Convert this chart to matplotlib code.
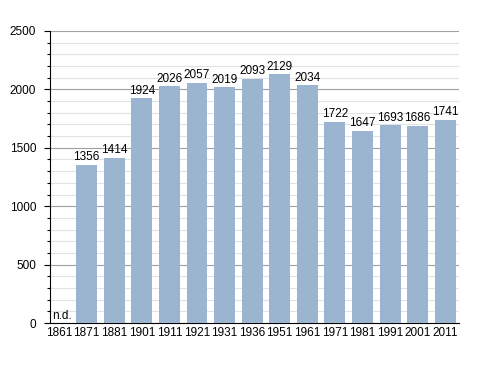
import matplotlib
matplotlib.use("Agg")
import matplotlib.pyplot as plt
import numpy as np

YEARS = ["1861", "1871", "1881", "1901", "1911", "1921", "1931", "1936",
         "1951", "1961", "1971", "1981", "1991", "2001", "2011"]
POPULATION = [None, 1356, 1414, 1924, 2026, 2057, 2019, 2093,
              2129, 2034, 1722, 1647, 1693, 1686, 1741]
MISSING_LABEL = "n.d."

BAR_COLOR = "#9bb4d0"
FONT_SIZE = 8.5

plt.rcParams["font.family"] = ["Liberation Sans", "DejaVu Sans"]

fig = plt.figure(figsize=(4.88, 3.73), dpi=100)
ax = fig.add_axes([0.1025, 0.134, 0.838, 0.783])

x = np.arange(len(YEARS))
heights = [0 if v is None else v for v in POPULATION]
ax.bar(x, heights, width=0.76, color=BAR_COLOR, zorder=3)

for xi, v in zip(x, POPULATION):
    if v is None:
        ax.text(xi - 0.27, 12, MISSING_LABEL, ha="left", va="bottom",
                fontsize=FONT_SIZE, zorder=4)
    else:
        ax.text(xi, v + 14, str(v), ha="center", va="bottom",
                fontsize=FONT_SIZE, zorder=4)

ax.set_xlim(-0.33, len(YEARS) - 0.5)
ax.set_ylim(0, 2500)
ax.set_xticks(x)
ax.set_xticklabels(YEARS, fontsize=FONT_SIZE)
ax.set_yticks(np.arange(0, 2501, 500))
ax.set_yticks(np.arange(0, 2501, 100), minor=True)
ax.tick_params(axis="y", which="major", labelsize=FONT_SIZE, length=4, width=0.8, pad=6)
ax.tick_params(axis="y", which="minor", length=2.5, width=0.8)
ax.tick_params(axis="x", length=0, pad=3)

ax.grid(axis="y", which="major", color="#a0a0a0", linewidth=0.8, zorder=1)
ax.grid(axis="y", which="minor", color="#e2e2e2", linewidth=0.8, zorder=0)

for side in ("top", "right"):
    ax.spines[side].set_visible(False)
ax.spines["left"].set_linewidth(0.8)
ax.spines["bottom"].set_linewidth(0.8)

fig.savefig("out.png", dpi=100)
